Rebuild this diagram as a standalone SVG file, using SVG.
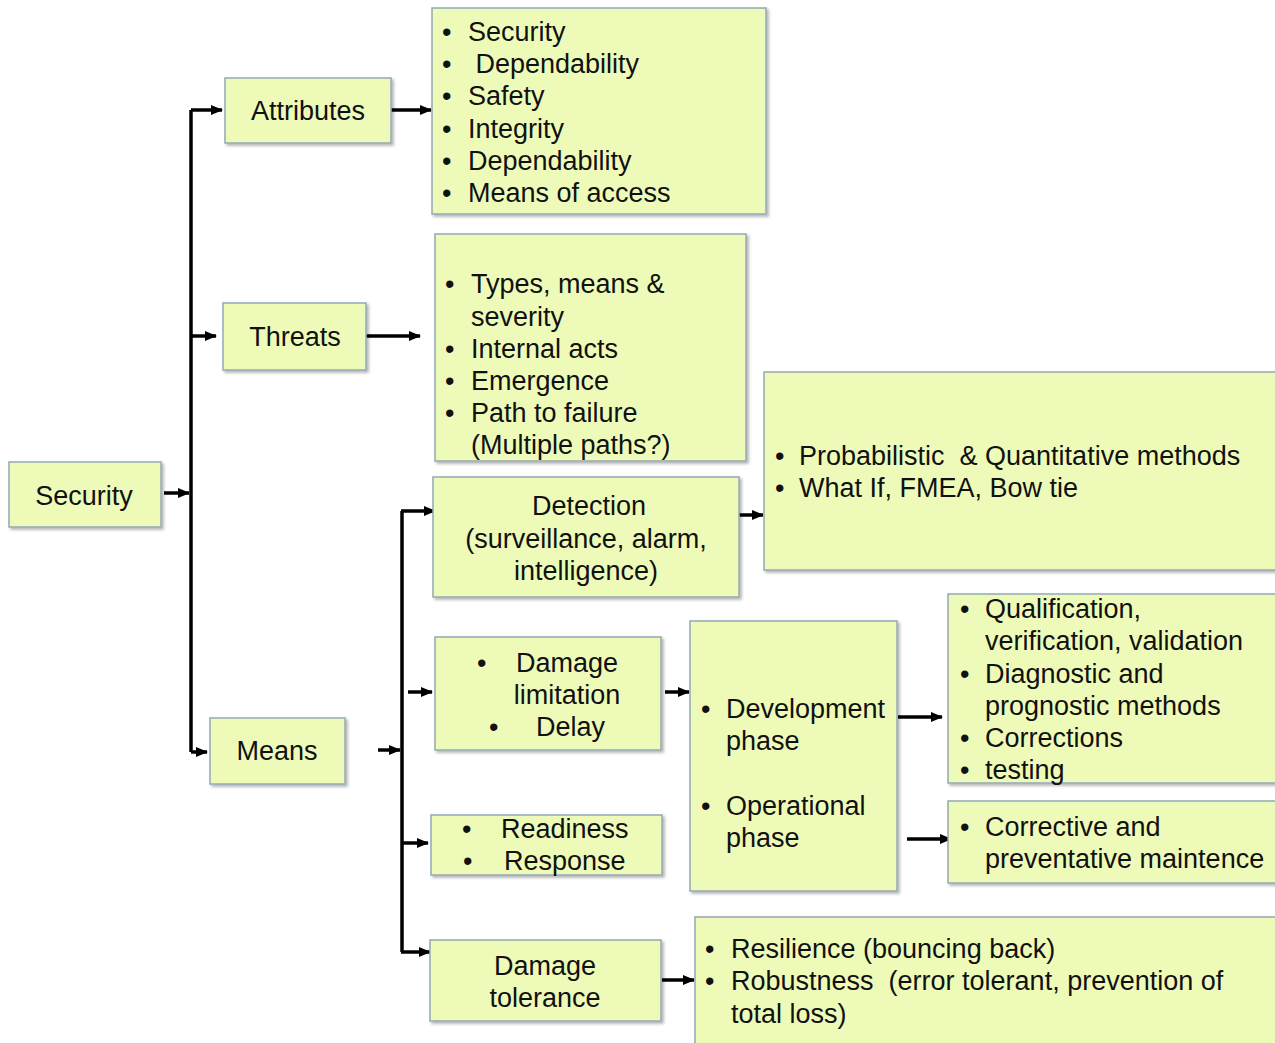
<svg xmlns="http://www.w3.org/2000/svg" width="1275" height="1043" viewBox="0 0 1275 1043">
<defs>
<marker id="ah" markerUnits="userSpaceOnUse" markerWidth="12" markerHeight="12" viewBox="0 0 12 12" refX="11" refY="6" orient="auto">
<path d="M0,1 L12,6 L0,11 Z" fill="#000"/>
</marker>
<filter id="sh" x="-5%" y="-5%" width="115%" height="120%">
<feDropShadow dx="2" dy="2" stdDeviation="1.5" flood-color="#000" flood-opacity="0.3"/>
</filter>
</defs>
<style>
.box{fill:#EEFBB8;stroke:#93A9B6;stroke-width:1.5;filter:url(#sh)}
text{font-family:"Liberation Sans",Arial,sans-serif;font-size:27px;fill:#111;white-space:pre}
.c{text-anchor:middle}
.ln{stroke:#000;stroke-width:3.5;fill:none}
.ar{stroke:#000;stroke-width:3.5;fill:none;marker-end:url(#ah)}
</style>
<rect width="1275" height="1043" fill="#fff"/>

<g id="connectors">
<line class="ar" x1="164" y1="493" x2="189" y2="493"/>
<line class="ln" x1="191" y1="110" x2="191" y2="752"/>
<line class="ar" x1="191" y1="110" x2="222" y2="110"/>
<line class="ar" x1="191" y1="336" x2="216" y2="336"/>
<line class="ar" x1="191" y1="752" x2="207" y2="752"/>
<line class="ar" x1="391" y1="110" x2="431" y2="110"/>
<line class="ar" x1="366" y1="336" x2="420" y2="336"/>
<line class="ar" x1="378" y1="750" x2="400" y2="750"/>
<line class="ln" x1="402" y1="511" x2="402" y2="952"/>
<line class="ar" x1="401" y1="511" x2="435" y2="511"/>
<line class="ar" x1="408" y1="692" x2="432" y2="692"/>
<line class="ar" x1="402" y1="843" x2="428" y2="843"/>
<line class="ar" x1="401" y1="952" x2="430" y2="952"/>
<line class="ar" x1="739" y1="515" x2="763" y2="515"/>
<line class="ar" x1="665" y1="692" x2="689" y2="692"/>
<line class="ar" x1="898" y1="717" x2="942" y2="717"/>
<line class="ar" x1="907" y1="839" x2="951" y2="839"/>
<line class="ar" x1="662" y1="980" x2="694" y2="980"/>
</g>

<g id="security">
<rect class="box" x="9" y="462" width="152" height="65"/>
<text class="c" x="84" y="505">Security</text>
</g>

<g id="attributes">
<rect class="box" x="225" y="78" width="166" height="65"/>
<text class="c" x="308" y="120">Attributes</text>
</g>

<g id="attributes-list">
<rect class="box" x="432" y="8" width="334" height="206"/>
<text x="442" y="41">•</text><text x="468" y="41">Security</text>
<text x="442" y="73">•</text><text x="468" y="73"> Dependability</text>
<text x="442" y="105">•</text><text x="468" y="105">Safety</text>
<text x="442" y="138">•</text><text x="468" y="138">Integrity</text>
<text x="442" y="170">•</text><text x="468" y="170">Dependability</text>
<text x="442" y="202">•</text><text x="468" y="202">Means of access</text>
</g>

<g id="threats">
<rect class="box" x="223" y="303" width="143" height="67"/>
<text class="c" x="295" y="346">Threats</text>
</g>

<g id="threats-list">
<rect class="box" x="435" y="234" width="311" height="227"/>
<text x="445" y="293">•</text><text x="471" y="293">Types, means &amp;</text>
<text x="471" y="326">severity</text>
<text x="445" y="358">•</text><text x="471" y="358">Internal acts</text>
<text x="445" y="390">•</text><text x="471" y="390">Emergence</text>
<text x="445" y="422">•</text><text x="471" y="422">Path to failure</text>
<text x="471" y="454">(Multiple paths?)</text>
</g>

<g id="means">
<rect class="box" x="210" y="718" width="135" height="66"/>
<text class="c" x="277" y="760">Means</text>
</g>

<g id="detection">
<rect class="box" x="433" y="477" width="306" height="120"/>
<text class="c" x="589" y="515">Detection</text>
<text class="c" x="586" y="548">(surveillance, alarm,</text>
<text class="c" x="586" y="580">intelligence)</text>
</g>

<g id="methods">
<rect class="box" x="764" y="372" width="520" height="198"/>
<text x="775" y="465">•</text><text x="799" y="465">Probabilistic  &amp; Quantitative methods</text>
<text x="775" y="497">•</text><text x="799" y="497">What If, FMEA, Bow tie</text>
</g>

<g id="damage-limitation">
<rect class="box" x="435" y="637" width="226" height="113"/>
<text x="477" y="672">•</text><text class="c" x="567" y="672">Damage</text>
<text class="c" x="567" y="704">limitation</text>
<text x="489" y="736">•</text><text x="536" y="736">Delay</text>
</g>

<g id="phases">
<rect class="box" x="690" y="621" width="207" height="270"/>
<text x="701" y="718">•</text><text x="726" y="718">Development</text>
<text x="726" y="750">phase</text>
<text x="701" y="815">•</text><text x="726" y="815">Operational</text>
<text x="726" y="847">phase</text>
</g>

<g id="qualification">
<rect class="box" x="948" y="594" width="336" height="189"/>
<text x="960" y="618">•</text><text x="985" y="618">Qualification,</text>
<text x="985" y="650">verification, validation</text>
<text x="960" y="683">•</text><text x="985" y="683">Diagnostic and</text>
<text x="985" y="715">prognostic methods</text>
<text x="960" y="747">•</text><text x="985" y="747">Corrections</text>
<text x="960" y="779">•</text><text x="985" y="779">testing</text>
</g>

<g id="maintenance">
<rect class="box" x="948" y="801" width="336" height="82"/>
<text x="960" y="836">•</text><text x="985" y="836">Corrective and</text>
<text x="985" y="868">preventative maintence</text>
</g>

<g id="readiness">
<rect class="box" x="431" y="815" width="231" height="60"/>
<text x="462" y="838">•</text><text x="501" y="838">Readiness</text>
<text x="463" y="870">•</text><text x="504" y="870">Response</text>
</g>

<g id="damage-tolerance">
<rect class="box" x="430" y="940" width="231" height="81"/>
<text class="c" x="545" y="975">Damage</text>
<text class="c" x="545" y="1007">tolerance</text>
</g>

<g id="resilience">
<rect class="box" x="695" y="917" width="590" height="140"/>
<text x="705" y="958">•</text><text x="731" y="958">Resilience (bouncing back)</text>
<text x="705" y="990">•</text><text x="731" y="990">Robustness  (error tolerant, prevention of</text>
<text x="731" y="1023">total loss)</text>
</g>
</svg>
